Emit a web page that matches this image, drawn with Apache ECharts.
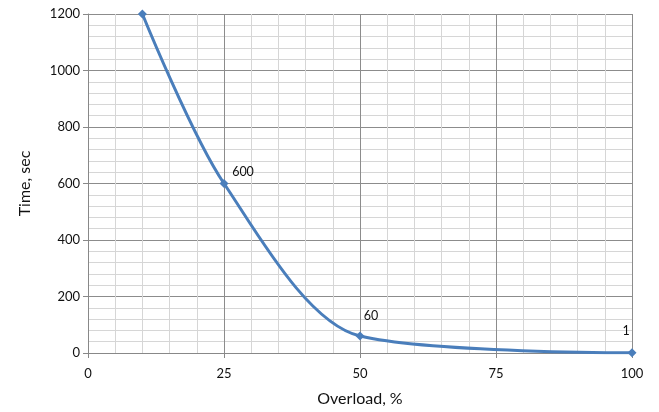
<!DOCTYPE html>
<html><head><meta charset="utf-8">
<script src="https://cdn.jsdelivr.net/npm/echarts@6/dist/echarts.min.js"></script>
<style>html,body{margin:0;padding:0;background:#fff}#c{width:659px;height:412px}</style>
</head><body><div id="c"></div>
<script>
const overload = [10, 25, 50, 100];
const timeSec = [1200, 600, 60, 1];
const pointLabels = ['', '600', '60', '1'];
const labelOffsets = [[0,0],[19,-12],[11,-20],[-6,-22]];
const xTicks = [0, 25, 50, 75, 100];
const yTicks = [0, 200, 400, 600, 800, 1000, 1200];

const font = 'Lato, "Open Sans", sans-serif';
const chart = echarts.init(document.getElementById('c'), null, {renderer:'canvas'});
const data = overload.map((x,i)=>({
  value:[x, timeSec[i]],
  label:{show: pointLabels[i] !== '', position:'inside', offset: labelOffsets[i],
    formatter: ()=>pointLabels[i], color:'#111', fontSize:12.5, fontFamily:font}
}));
chart.setOption({
  animation:false,
  grid:{left:88, right:27, top:14, bottom:52},
  xAxis:{type:'value', min:xTicks[0], max:xTicks[xTicks.length-1], interval:25,
    name:'Overload, %', nameLocation:'middle', nameGap:38,
    nameTextStyle:{fontSize:16, color:'#111', fontFamily:font},
    axisLine:{show:true, lineStyle:{color:'#888', width:1}},
    axisTick:{show:true, length:5, lineStyle:{color:'#888'}},
    axisLabel:{color:'#111', fontSize:13, fontFamily:font, margin:14},
    splitLine:{show:true, lineStyle:{color:'#8c8c8c', width:1}},
    minorTick:{show:false, splitNumber:5},
    minorSplitLine:{show:true, lineStyle:{color:'#d6d6d6', width:1}}
  },
  yAxis:{type:'value', min:yTicks[0], max:yTicks[yTicks.length-1], interval:200,
    name:'Time, sec', nameLocation:'middle', nameGap:55, nameRotate:90,
    nameTextStyle:{fontSize:16, color:'#111', fontFamily:font},
    axisLine:{show:true, lineStyle:{color:'#888', width:1}},
    axisTick:{show:true, length:5, lineStyle:{color:'#888'}},
    axisLabel:{color:'#111', fontSize:13, fontFamily:font, margin:8, formatter:(v)=>String(v)},
    splitLine:{show:true, lineStyle:{color:'#8c8c8c', width:1}},
    minorTick:{show:false, splitNumber:5},
    minorSplitLine:{show:true, lineStyle:{color:'#d6d6d6', width:1}}
  },
  series:[{type:'line', data:data, smooth:0.3, symbol:'diamond', symbolSize:9,
    lineStyle:{color:'#4a7ebb', width:3}, itemStyle:{color:'#4a7ebb'}}]
});
</script></body></html>
